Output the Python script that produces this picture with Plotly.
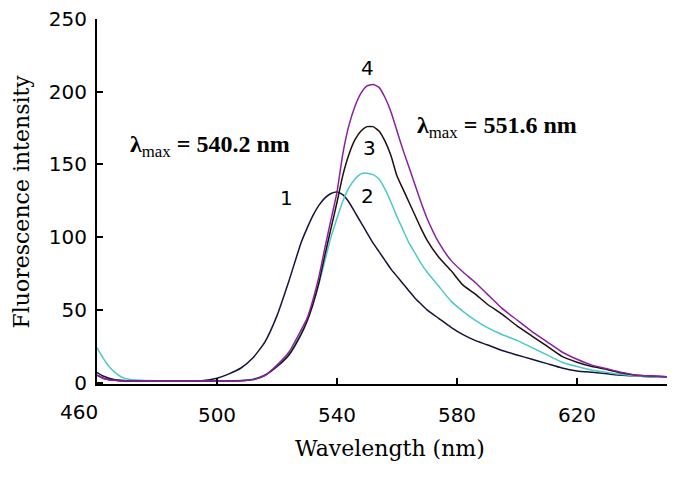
import plotly.graph_objects as go

wavelength = [460, 462, 464, 466, 468, 470, 475, 480, 485, 490, 495, 500, 504, 508, 512, 516, 520,
              524, 528, 530, 532, 534, 536, 538, 540, 542, 544, 546, 548, 550, 552, 554, 556, 558,
              560, 562, 564, 566, 568, 570, 574, 578, 582, 586, 590, 595, 600, 605, 610, 615, 620,
              625, 630, 635, 640, 645, 650]

curve1 = [7, 4.5, 3, 2, 1.5, 1.2, 1, 1, 1, 1, 1.2, 3, 6, 10, 17, 28, 46,
          70, 96, 106, 115, 122, 127, 130, 131, 129, 124, 117, 110, 103, 96, 90, 84, 78,
          73, 68, 63, 58, 54, 50, 44, 38, 33, 29, 26, 22, 19, 16, 13, 10, 8,
          7, 6, 5, 4.5, 4, 4]

curve2 = [24, 17, 11, 7, 4, 2.5, 1.5, 1.2, 1.2, 1.2, 1.2, 1.2, 1.2, 1.5, 2.5, 5, 11,
          20, 34, 43, 54, 68, 84, 100, 113, 125, 134, 140, 143.5, 144, 143, 140, 133, 124,
          114, 105, 96, 89, 82, 76, 66, 56, 49, 43, 38, 33, 29, 24, 19, 14, 11,
          8.5, 7, 5.5, 4.5, 4, 4]

curve3 = [5, 3, 2, 1.5, 1.2, 1, 1, 1, 1, 1, 1, 1, 1, 1.2, 2, 5, 11,
          19, 33, 42, 54, 69, 88, 106, 124, 143, 157, 167, 173, 176, 176, 173, 166, 156,
          142, 133, 124, 115, 106, 98, 86, 77, 67, 61, 54, 47, 39, 32, 25, 18, 14,
          11, 9, 6.5, 5, 4.5, 4]

curve4 = [5, 3, 2, 1.5, 1, 1, 1, 1, 1, 1, 1, 1, 1, 1.2, 2, 5, 12,
          21, 36, 44, 57, 73, 93, 112, 131, 158, 177, 190, 199, 204, 205, 203, 196, 186,
          173, 160, 148, 136, 124, 113, 96, 84, 76, 69, 61, 51, 43, 35, 28, 21, 16,
          12, 9.5, 7, 5, 4.5, 4]

series = [("1", curve1, "#14143c"), ("2", curve2, "#4cc9c9"),
          ("3", curve3, "#1e0f0f"), ("4", curve4, "#8a1fa0")]

x_ticks = [500, 540, 580, 620]
y_ticks = [0, 50, 100, 150, 200, 250]

fig = go.Figure()
for name, ys, color in series:
    fig.add_trace(go.Scatter(x=wavelength, y=ys, mode="lines", name=name,
                             line=dict(color=color, width=1.5, shape="spline", smoothing=0.5),
                             showlegend=False))

num_font = dict(family="DejaVu Sans", size=20, color="black")
lam_font = dict(family="Liberation Serif", size=24, color="black")
title_font = dict(family="DejaVu Serif", size=22, color="black")

annotations = [
    dict(x=523, y=127, text="1", showarrow=False, font=num_font),
    dict(x=550, y=128, text="2", showarrow=False, font=num_font),
    dict(x=550.7, y=161, text="3", showarrow=False, font=num_font),
    dict(x=550.3, y=216, text="4", showarrow=False, font=num_font),
    dict(x=470.3, y=163, xanchor="left", text="<b>λ</b><sub>max</sub><b> = 540.2 nm</b>",
         showarrow=False, font=lam_font),
    dict(x=566, y=176, xanchor="left", text="<b>λ</b><sub>max</sub><b> = 551.6 nm</b>",
         showarrow=False, font=lam_font),
    dict(xref="paper", yref="paper", x=-0.0316, y=0, xanchor="center", yanchor="top",
         yshift=-14, text="460", showarrow=False, font=num_font),
    dict(xref="paper", yref="paper", x=0.5, y=0, xanchor="center", yanchor="top",
         yshift=-50, xshift=8, text="Wavelength (nm)", showarrow=False, font=title_font),
    dict(xref="paper", yref="paper", x=-0.1316, y=0.5, xanchor="center", yanchor="middle",
         textangle=-90, text="Fluorescence intensity", showarrow=False, font=title_font),
]

fig.update_layout(
    width=679, height=479,
    margin=dict(l=89, r=20, t=11, b=103, autoexpand=False),
    paper_bgcolor="white", plot_bgcolor="white",
    annotations=annotations,
    xaxis=dict(range=[460, 650], tickvals=x_ticks, ticks="inside", ticklen=6, tickwidth=2,
               tickcolor="black", showline=True, linecolor="black", linewidth=2,
               showgrid=False, zeroline=False, tickfont=num_font, ticklabelstandoff=12,
               automargin=False, ticklabeloverflow="allow"),
    yaxis=dict(range=[-1, 250], tickvals=y_ticks, ticks="inside", ticklen=6, tickwidth=2,
               tickcolor="black", showline=True, linecolor="black", linewidth=2,
               showgrid=False, zeroline=False, tickfont=num_font, ticklabelstandoff=4,
               automargin=False, ticklabeloverflow="allow"),
)

fig.write_html("out.html")
